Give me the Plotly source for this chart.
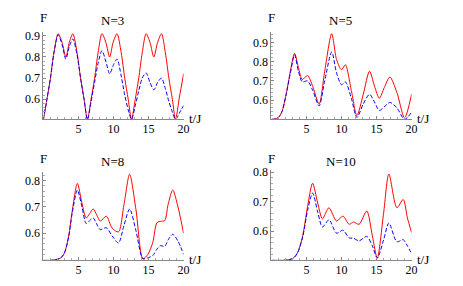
import plotly.graph_objects as go

# ---- data ----
t3 = [0, 0.5, 1.0, 1.5, 2.1, 2.65, 3.2, 3.7, 4.2, 4.8, 5.3, 5.8, 6.28,
      6.8, 7.3, 7.8, 8.35, 8.9, 9.45, 9.95, 10.5, 11.1, 11.6, 12.1, 12.57,
      13.1, 13.6, 14.1, 14.65, 15.2, 15.75, 16.3, 16.85, 17.4, 17.9, 18.4, 18.85, 19.4, 20.0]
red3 = [0.505, 0.60, 0.70, 0.82, 0.91, 0.87, 0.80, 0.87, 0.91, 0.82, 0.70, 0.60, 0.505,
        0.60, 0.70, 0.82, 0.91, 0.87, 0.80, 0.87, 0.91, 0.82, 0.70, 0.60, 0.505,
        0.60, 0.70, 0.82, 0.91, 0.87, 0.80, 0.87, 0.91, 0.82, 0.70, 0.60, 0.505, 0.61, 0.72]
blue3 = [0.505, 0.60, 0.70, 0.82, 0.905, 0.86, 0.79, 0.85, 0.885, 0.81, 0.70, 0.60, 0.505,
         0.59, 0.68, 0.77, 0.83, 0.78, 0.72, 0.76, 0.79, 0.71, 0.62, 0.55, 0.505,
         0.57, 0.64, 0.70, 0.725, 0.68, 0.645, 0.68, 0.70, 0.65, 0.59, 0.54, 0.505, 0.535, 0.57]

t5 = [0, 0.5, 1.0, 1.5, 2.1, 2.7, 3.3, 3.85, 4.4, 5.15, 5.9, 6.8, 7.6, 8.6, 9.3, 10.0,
      10.55, 11.4, 12.2, 13.1, 14.0, 14.7, 15.4, 16.1, 16.9, 17.9, 19.0, 20.0]
red5 = [0.50, 0.502, 0.51, 0.54, 0.63, 0.75, 0.843, 0.77, 0.707, 0.728, 0.67, 0.58, 0.75,
        0.945, 0.81, 0.758, 0.784, 0.65, 0.52, 0.63, 0.75, 0.673, 0.61, 0.665, 0.72, 0.64, 0.508, 0.63]
blue5 = [0.50, 0.502, 0.51, 0.54, 0.63, 0.74, 0.835, 0.75, 0.695, 0.70, 0.65, 0.57, 0.70,
         0.85, 0.74, 0.68, 0.695, 0.61, 0.51, 0.58, 0.63, 0.59, 0.546, 0.565, 0.588, 0.56, 0.50, 0.537]

t8 = [0, 1.0, 1.8, 2.5, 3.0, 3.6, 4.1, 4.84, 5.5, 6.1, 6.6, 7.1, 7.6, 8.1, 8.97, 9.8, 10.7,
      11.5, 12.3, 13.2, 14.2, 14.9, 15.6, 16.2, 16.7, 17.3, 17.8, 18.45, 19.2, 20.0]
red8 = [0.497, 0.497, 0.50, 0.507, 0.525, 0.59, 0.683, 0.789, 0.714, 0.658, 0.675, 0.692, 0.67,
        0.646, 0.665, 0.62, 0.605, 0.71, 0.824, 0.69, 0.503, 0.52, 0.565, 0.64, 0.645, 0.648,
        0.71, 0.764, 0.70, 0.60]
blue8 = [0.497, 0.497, 0.50, 0.507, 0.525, 0.585, 0.675, 0.764, 0.70, 0.637, 0.648, 0.658, 0.635,
         0.614, 0.621, 0.59, 0.563, 0.63, 0.692, 0.61, 0.503, 0.507, 0.515, 0.54, 0.553, 0.55,
         0.575, 0.596, 0.57, 0.52]

t10 = [0, 1.5, 2.5, 3.2, 3.76, 4.46, 5.16, 5.87, 6.6, 7.28, 8.2, 9.3, 10.2, 11.1, 11.7, 12.5,
       13.6, 14.4, 15.1, 16.0, 16.76, 17.9, 18.8, 19.4, 20.0]
red10 = [0.501, 0.501, 0.503, 0.51, 0.529, 0.584, 0.684, 0.762, 0.695, 0.642, 0.679, 0.634, 0.651,
         0.623, 0.631, 0.623, 0.668, 0.584, 0.509, 0.66, 0.793, 0.679, 0.707, 0.645, 0.595]
blue10 = [0.501, 0.501, 0.503, 0.51, 0.528, 0.58, 0.67, 0.729, 0.665, 0.614, 0.638, 0.593, 0.603,
          0.577, 0.576, 0.567, 0.582, 0.55, 0.509, 0.57, 0.627, 0.564, 0.571, 0.55, 0.523]

titles = ["N=3", "N=5", "N=8", "N=10"]
xticks = [5, 10, 15, 20]

W, H = 463, 286
FONT = "Liberation Serif, Times New Roman, Times, serif"

panels = [
    # (t, red, blue, x-domain px, y-domain px (top,bottom), y range, y tickvals)
    (t3, red3, blue3, (44, 186), (28, 117), (0.505, 0.92), [0.6, 0.7, 0.8, 0.9]),
    (t5, red5, blue5, (275, 417), (28, 117), (0.500, 0.956), [0.6, 0.7, 0.8, 0.9]),
    (t8, red8, blue8, (44, 186), (170, 260), (0.497, 0.834), [0.6, 0.7, 0.8]),
    (t10, red10, blue10, (275, 417), (168, 260), (0.501, 0.808), [0.6, 0.7, 0.8]),
]

fig = go.Figure()
layout = dict(width=W, height=H, margin=dict(l=0, r=0, t=0, b=0),
              paper_bgcolor="white", plot_bgcolor="white", showlegend=False,
              font=dict(family=FONT, size=12, color="black"))
annotations = []

for i, (t, r, b, xd, yd, yr, yt) in enumerate(panels):
    k = "" if i == 0 else str(i + 1)
    xa, ya = "x" + k, "y" + k
    fig.add_trace(go.Scatter(x=t, y=r, xaxis=xa, yaxis=ya, mode="lines",
                             line=dict(color="rgb(255,0,0)", width=1, shape="spline", smoothing=0.8)))
    fig.add_trace(go.Scatter(x=t, y=b, xaxis=xa, yaxis=ya, mode="lines",
                             line=dict(color="rgb(0,0,255)", width=1, dash="4px,2px", shape="spline", smoothing=0.8)))
    layout["xaxis" + k] = dict(domain=[xd[0] / W, xd[1] / W], range=[0, 20], anchor=ya,
                               showgrid=False, zeroline=False, showline=True, linecolor="#888", linewidth=1,
                               ticks="inside", ticklen=3, tickcolor="#888", tickvals=xticks,
                               ticklabelstandoff=-2,
                               tickfont=dict(family=FONT, size=12),
                               minor=dict(ticks="inside", ticklen=2, dtick=1, tickcolor="#aaa"))
    layout["yaxis" + k] = dict(domain=[1 - yd[1] / H, 1 - yd[0] / H], range=list(yr), anchor=xa,
                               showgrid=False, zeroline=False, showline=True, linecolor="#888", linewidth=1,
                               ticks="inside", ticklen=3, tickcolor="#888", tickvals=yt,
                               tickformat=".1f", tickfont=dict(family=FONT, size=12),
                               minor=dict(ticks="inside", ticklen=2, dtick=0.02, tickcolor="#aaa"))
    top, bot = yd
    annotations.append(dict(text="F", x=xd[0] / W, y=1 - (14 if i < 2 else 157) / H,
                            xref="paper", yref="paper", showarrow=False, xanchor="center", yanchor="middle",
                            font=dict(family=FONT, size=13)))
    annotations.append(dict(text="t/J", x=(xd[1] + 12) / W, y=1 - (bot - 1) / H,
                            xref="paper", yref="paper", showarrow=False, xanchor="center", yanchor="middle",
                            font=dict(family=FONT, size=13)))
    annotations.append(dict(text=titles[i], x=(xd[0] + 70) / W, y=1 - (17 if i < 2 else 160) / H,
                            xref="paper", yref="paper", showarrow=False, xanchor="center", yanchor="middle",
                            font=dict(family=FONT, size=13)))

layout["annotations"] = annotations
fig.update_layout(**layout)
fig.write_html("out.html", config={"displayModeBar": False},
               post_script="document.body.style.margin='0';")
